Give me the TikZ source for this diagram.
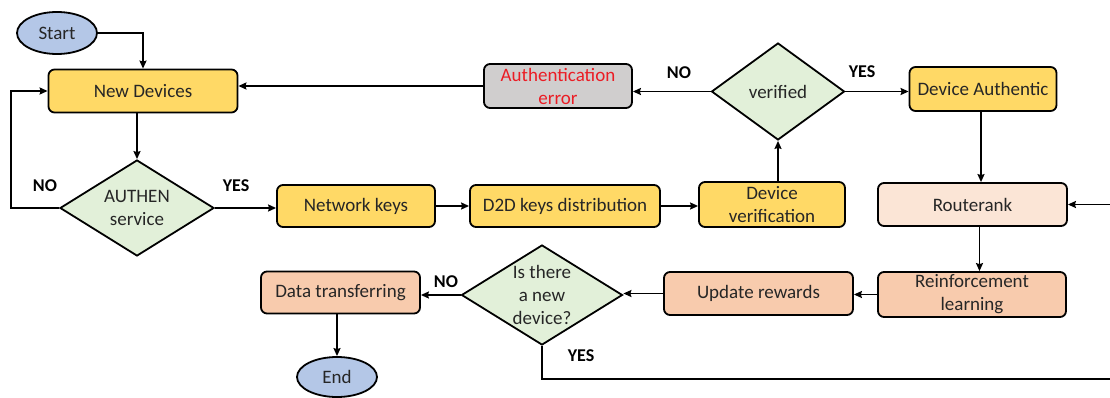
\documentclass[tikz,border=0pt]{standalone}
\usepackage{fontspec}
\setmainfont{Carlito}
\usetikzlibrary{shapes.geometric,arrows.meta}
\definecolor{termfill}{RGB}{180,199,231}
\definecolor{yellowbox}{RGB}{255,217,102}
\definecolor{decfill}{RGB}{226,240,217}
\definecolor{errfill}{RGB}{208,206,206}
\definecolor{errtext}{RGB}{235,28,36}
\definecolor{peachlight}{RGB}{251,229,214}
\definecolor{peach}{RGB}{248,203,173}
\begin{document}
\begin{tikzpicture}[x=1pt,y=-1pt,
  font=\fontsize{19}{23}\selectfont,
  every node/.style={text=black!85},
  box/.style={draw=black, line width=1.8pt, rounded corners=6pt, align=center, inner sep=0pt},
  term/.style={draw=black, line width=1.8pt, ellipse, fill=termfill, inner sep=0pt},
  dec/.style={draw=black, line width=1.8pt, diamond, fill=decfill, inner sep=0pt},
  dectext/.style={align=center, inner sep=0pt, text=black!85},
  arr/.style={line width=1.8pt, -{Stealth[length=8pt,width=7pt,inset=1pt]}},
  lbl/.style={font=\fontsize{18}{20}\selectfont\bfseries, text=black}
]
\useasboundingbox (0,0) rectangle (1110,398);

% terminals
\node[term, minimum width=80, minimum height=42] (start) at (57,33) {Start};
\node[term, minimum width=80, minimum height=40] (end) at (337,377) {End};

% process boxes
\node[box, fill=yellowbox, minimum width=189, minimum height=43] (nd) at (143,91) {New Devices};
\node[box, fill=errfill, text=errtext, minimum width=148, minimum height=44] (autherr) at (558,86) {Authentication\\error};
\node[box, fill=yellowbox, minimum width=147, minimum height=44] (devauth) at (983,89) {Device Authentic};
\node[box, fill=yellowbox, minimum width=158, minimum height=42] (netkeys) at (356,206) {Network keys};
\node[box, fill=yellowbox, minimum width=190, minimum height=42] (d2d) at (565,206) {D2D keys distribution};
\node[box, fill=yellowbox, minimum width=146, minimum height=45] (devver) at (772,204.5) {Device\\verification};
\node[box, fill=peachlight, minimum width=189, minimum height=43] (router) at (972.5,204.5) {Routerank};
\node[box, fill=peach, minimum width=188, minimum height=45] (rl) at (972,294.5) {Reinforcement\\learning};
\node[box, fill=peach, minimum width=189, minimum height=43] (ur) at (758.5,293.5) {Update rewards};
\node[box, fill=peach, minimum width=159, minimum height=42] (dt) at (340.5,292.5) {Data transferring};

% decisions
\node[dec, minimum width=154, minimum height=96,
      label={[dectext]center:AUTHEN\\service}] (authen) at (137,208) {};
\node[dec, minimum width=133, minimum height=97,
      label={[dectext]center:verified}] (verified) at (778,91.5) {};
\node[dec, minimum width=161, minimum height=100,
      label={[dectext]center:Is there\\a new\\device?}] (isnew) at (542,295) {};

% branch labels
\node[lbl] (no1) at (45,186) {NO};
\node[lbl] (yes1) at (236,186) {YES};
\node[lbl] (no2) at (679,73) {NO};
\node[lbl] (yes2) at (862,72) {YES};
\node[lbl] (no3) at (446,282) {NO};
\node[lbl] (yes3) at (581,356) {YES};

% loop-back points at the right edge
\coordinate (rloop) at (1114,379);
\coordinate (rin) at (1114,204.5);

% connectors
\draw[arr] (start.east) -| (nd.north);
\draw[arr] (authen.north |- nd.south) -- (authen.north);
\draw[arr] (authen.west) -- ++(-48,0) |- (nd.west);
\draw[arr] (authen.east) -- (authen.east -| netkeys.west);
\draw[arr] (netkeys.east) -- (d2d.west);
\draw[arr] (d2d.east) -- (d2d.east -| devver.west);
\draw[arr] (verified.south |- devver.north) -- (verified.south);
\draw[arr] (verified.west) -- (verified.west -| autherr.east);
\draw[arr] (autherr.west) -- (autherr.west -| nd.east);
\draw[arr] (verified.east) -- (verified.east -| devauth.west);
\draw[arr] ([xshift=-2]devauth.south) -- ([xshift=-2]devauth.south |- router.north);
\draw[arr] ([xshift=7]router.south) -- ([xshift=7]router.south |- rl.north);
\draw[arr] (rl.west) -- (rl.west -| ur.east);
\draw[arr] (ur.west) -- (ur.west -| isnew.east);
\draw[arr] (isnew.west) -- (isnew.west -| dt.east);
\draw[arr] (end.north |- dt.south) -- (end.north);
\draw[arr] (isnew.south) |- (rloop) -- (rin) -- (router.east);
\end{tikzpicture}
\end{document}
